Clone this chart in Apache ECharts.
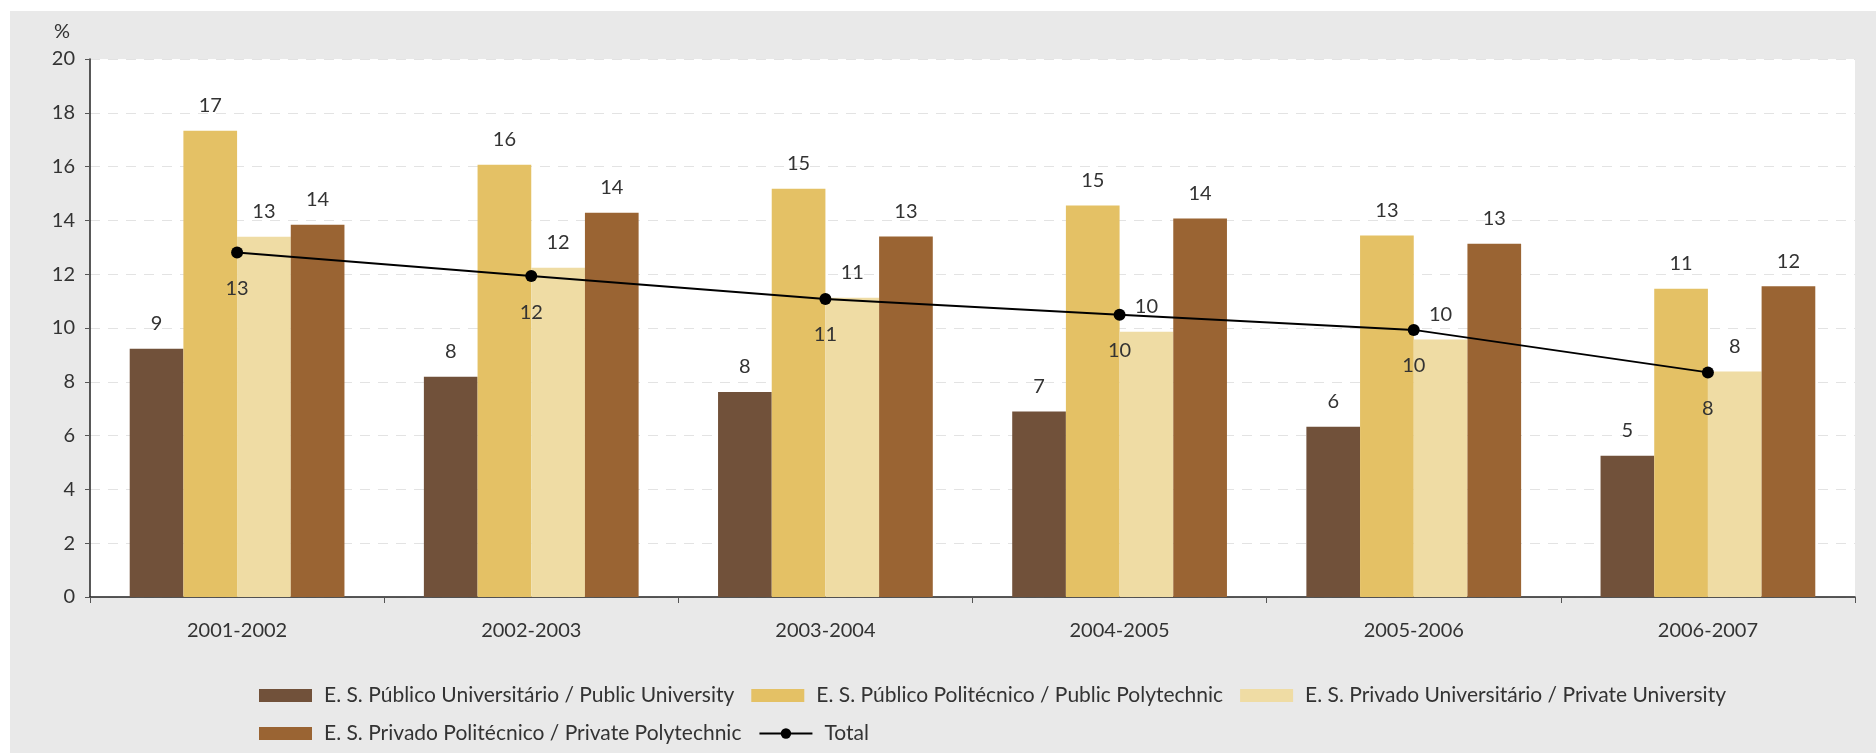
<!DOCTYPE html>
<html>
<head>
<meta charset="utf-8">
<script src="https://cdn.jsdelivr.net/npm/echarts@6/dist/echarts.min.js"></script>
<style>
  html, body { margin: 0; padding: 0; background: #ffffff; }
  #chart { position: absolute; left: 10px; top: 11px; width: 1866px; height: 742px; }
</style>
</head>
<body>
<div id="chart"></div>
<script>
const categories = ['2001-2002', '2002-2003', '2003-2004', '2004-2005', '2005-2006', '2006-2007'];
const publicUniversity = [9.23, 8.19, 7.62, 6.9, 6.33, 5.25];
const publicPolytechnic = [17.33, 16.07, 15.18, 14.55, 13.44, 11.46];
const privateUniversity = [13.39, 12.24, 11.12, 9.86, 9.57, 8.38];
const privatePolytechnic = [13.84, 14.28, 13.4, 14.07, 13.13, 11.55];
const total = [12.81, 11.93, 11.08, 10.49, 9.93, 8.35];
const seriesNames = [
  'E. S. Público Universitário / Public University',
  'E. S. Público Politécnico / Public Polytechnic',
  'E. S. Privado Universitário / Private University',
  'E. S. Privado Politécnico / Private Polytechnic',
  'Total'
];
const yTicks = [0, 2, 4, 6, 8, 10, 12, 14, 16, 18, 20];

const colors = ['#71513a', '#e4c165', '#efdca4', '#9a6433', '#000000'];
const font = 'Lato';
const labelStyle = {
  show: true, position: 'top', distance: 15,
  fontFamily: font, fontSize: 20, color: '#333',
  formatter: p => Math.round(p.value)
};
function barSeries(name, data, color) {
  return {
    name, type: 'bar', data, barGap: '0%', barCategoryGap: '27%',
    itemStyle: { color }, label: labelStyle
  };
}

const chart = echarts.init(document.getElementById('chart'));
chart.setOption({
  backgroundColor: '#e9e9e9',
  animation: false,
  grid: {
    left: 80, right: 21, top: 48, bottom: 156,
    show: true, backgroundColor: '#ffffff', borderWidth: 0
  },
  legend: {
    left: 244, top: 669, width: 1500,
    itemWidth: 53, itemHeight: 13, itemGap: 17,
    textStyle: { fontFamily: font, fontSize: 21, color: '#333', lineHeight: 21, padding: [0, 0, 0, 7] },
    data: seriesNames.map((n, i) => i < 4 ? { name: n, icon: 'rect' } : { name: n })
  },
  xAxis: {
    type: 'category', data: categories,
    axisLine: { lineStyle: { color: '#222', width: 1.5 } },
    axisTick: { show: true, length: 6, lineStyle: { color: '#555' } },
    axisLabel: { fontFamily: font, fontSize: 20, color: '#333', margin: 24 }
  },
  yAxis: {
    type: 'value', min: yTicks[0], max: yTicks[yTicks.length - 1], interval: 2,
    name: '%', nameLocation: 'end', nameGap: 17,
    nameTextStyle: { fontFamily: font, fontSize: 20, color: '#333', align: 'right', padding: [0, 20, 0, 0] },
    axisLine: { show: true, lineStyle: { color: '#222', width: 1.5 } },
    axisTick: { show: true, length: 5, lineStyle: { color: '#555' } },
    axisLabel: { fontFamily: font, fontSize: 20, color: '#333', margin: 15 },
    splitLine: { show: true, lineStyle: { color: '#e3e3e3', type: [10, 8], width: 1 } }
  },
  series: [
    barSeries(seriesNames[0], publicUniversity, colors[0]),
    barSeries(seriesNames[1], publicPolytechnic, colors[1]),
    barSeries(seriesNames[2], privateUniversity, colors[2]),
    barSeries(seriesNames[3], privatePolytechnic, colors[3]),
    {
      name: seriesNames[4], type: 'line', data: total,
      symbol: 'circle', symbolSize: 12,
      itemStyle: { color: '#000' }, lineStyle: { color: '#000', width: 2 },
      label: {
        show: true, position: 'bottom', distance: 20,
        fontFamily: font, fontSize: 20, color: '#333',
        formatter: p => Math.round(p.value)
      },
      z: 5
    }
  ]
});
</script>
</body>
</html>
